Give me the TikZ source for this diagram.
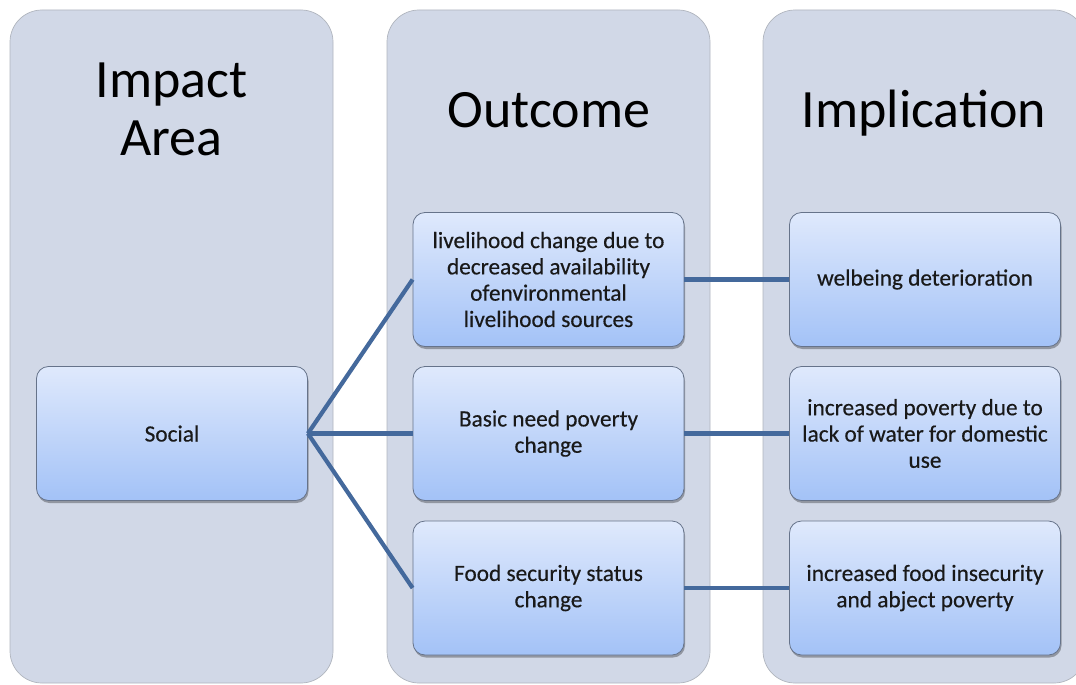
\documentclass[tikz,border=0pt]{standalone}
\usepackage{fontspec}
\setmainfont{Carlito}
\newfontfamily\boxfont[FakeBold=0.4]{Carlito}
\usetikzlibrary{shadows}
\definecolor{panelfill}{HTML}{D1D8E7}
\definecolor{paneledge}{HTML}{B0B5BE}
\definecolor{boxtop}{HTML}{DFE9FC}
\definecolor{boxbot}{HTML}{A3C2F7}
\definecolor{boxedge}{HTML}{66738A}
\definecolor{linkcol}{HTML}{44699C}
\tikzset{
  panel/.style={fill=panelfill, draw=paneledge, line width=0.7pt, rounded corners=32pt},
  title/.style={anchor=base, font=\fontsize{54}{58}\selectfont, text=black},
  itembox/.style={draw=boxedge, line width=0.8pt, rounded corners=12pt,
    top color=boxtop, bottom color=boxbot, minimum width=271pt, minimum height=134pt,
    align=center, inner sep=0pt,
    font=\boxfont\fontsize{23.3}{26.3}\selectfont, text=black!90,
    drop shadow={shadow xshift=1pt, shadow yshift=-2.5pt, opacity=0.3, fill=black}},
  link/.style={draw=linkcol, line width=4.2pt}
}
\begin{document}
\begin{tikzpicture}[x=1pt,y=-1pt]
\useasboundingbox (0,0) rectangle (1076,685);
\clip (0,0) rectangle (1076,685);
% column panels
\path[panel] (10,10) rectangle (333,683);
\path[panel] (387,10) rectangle (710,683);
\path[panel] (763,10) rectangle (1086,683);
% titles
\node[title] (t1a) at (171.5,97) {Impact};
\node[title] (t1b) at (171.5,155) {Area};
\node[title] (t2) at (549,127) {Outcome};
\node[title] (t3) at (924,127) {Implication};
% boxes
\node[itembox] (soc) at (172,433.5) {Social};
\node[itembox] (o1) at (548.5,279.5) {livelihood change due to\\decreased availability\\ofenvironmental\\livelihood sources};
\node[itembox] (o2) at (548.5,433.5) {Basic need poverty\\change};
\node[itembox] (o3) at (548.5,588) {Food security status\\change};
\node[itembox] (i1) at (925,279.5) {welbeing deterioration};
\node[itembox] (i2) at (925,433.5) {increased poverty due to\\lack of water for domestic\\use};
\node[itembox] (i3) at (925,588) {increased food insecurity\\and abject poverty};
% links
\draw[link] (soc.east) -- (o1.west);
\draw[link] (soc.east) -- (o2.west);
\draw[link] (soc.east) -- (o3.west);
\draw[link] (o1.east) -- (i1.west);
\draw[link] (o2.east) -- (i2.west);
\draw[link] (o3.east) -- (i3.west);
\end{tikzpicture}
\end{document}
